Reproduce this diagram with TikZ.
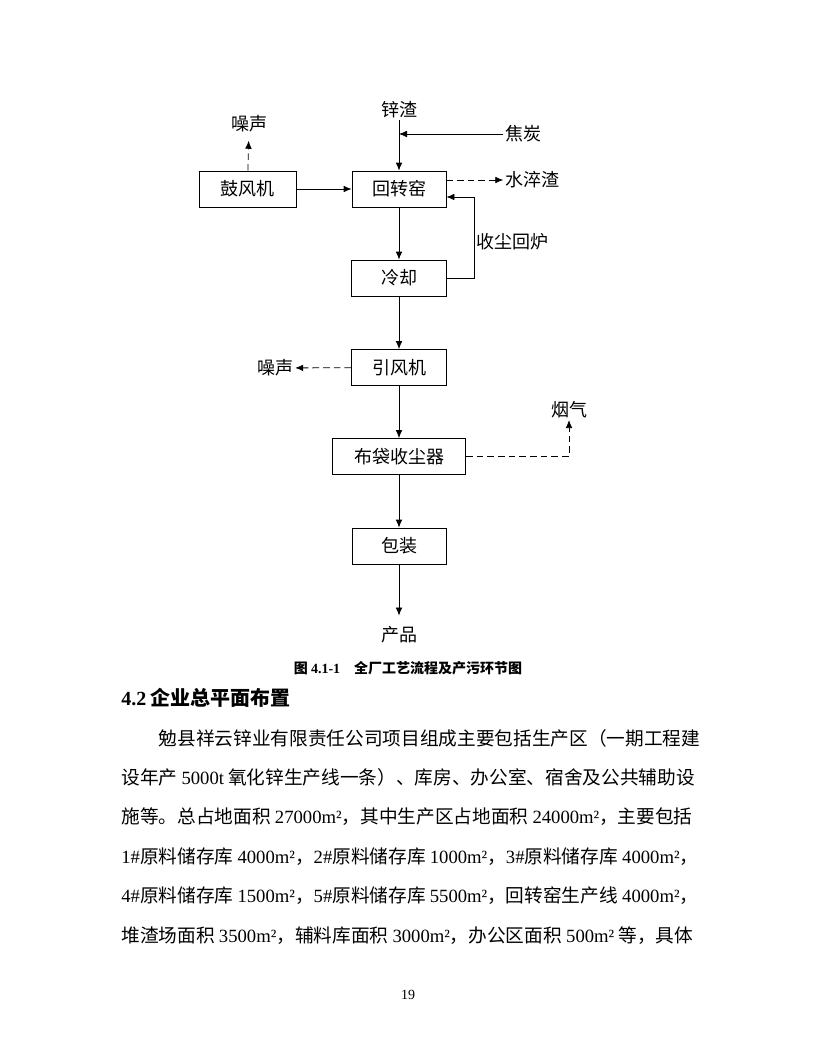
\documentclass[tikz,border=0pt]{standalone}
\usepackage{fontspec}
\usetikzlibrary{arrows.meta}
\setmainfont{Noto Sans CJK SC}
\newfontfamily\lat{Liberation Serif}
\newcommand{\en}[1]{{\lat #1}}
\tikzset{>={Latex[length=6pt,width=5pt]},
  proc/.style={draw,shape=rectangle,minimum height=27pt,minimum width=71.25pt,inner sep=0pt,font=\fontsize{13.5}{16}\selectfont},
  lbl/.style={inner sep=1pt,font=\fontsize{13.5}{16}\selectfont},
  dashline/.style={dash pattern=on 5pt off 3pt},
  bodyline/.style={anchor=west,inner sep=0pt,font=\fontsize{14}{16}\selectfont}}
\begin{document}
\begin{tikzpicture}[x=0.75pt,y=-0.75pt,line width=0.6pt]
\fill[white] (0,0) rectangle (816,1056);
\useasboundingbox (0,0) rectangle (816,1056);
% process boxes
\node[proc,minimum width=72.75pt](blower) at (247.5,189){鼓风机};
\node[proc,minimum width=70.5pt](kiln) at (399,189){回转窑};
\node[proc](cool) at (399,278){冷却};
\node[proc](idfan) at (399,367.5){引风机};
\node[proc,minimum width=99.75pt](bag) at (399,456.5){布袋收尘器};
\node[proc,minimum width=70.5pt](pack) at (399,546){包装};
% inputs and outputs
\node[lbl](zn) at (399,109.5){锌渣};
\node[lbl](coke) at (523,134){焦炭};
\node[lbl](noise1) at (249,124){噪声};
\node[lbl](slag) at (532,180){水淬渣};
\node[lbl](dust) at (512.5,242){收尘回炉};
\node[lbl](noise2) at (275.5,368){噪声};
\node[lbl](smoke) at (569,410){烟气};
\node[lbl](prod) at (399,635){产品};
\coordinate (j1) at (399,134);
\coordinate (r1) at (474,278);
\draw[->] (zn) -- (kiln);
\draw[->] (coke) -- (j1);
\draw[->,dashline,shorten >=5pt] (blower) -- (noise1);
\draw[->] (blower) -- (kiln);
\draw[->,dashline] (kiln.east |- slag) -- (slag);
\draw[->] (kiln) -- (cool);
\draw[->] (cool.east) -- (r1) |- ([shift={(0,8)}]kiln.east);
\draw[->] (cool) -- (idfan);
\draw[->,dashline] (idfan) -- (noise2);
\draw[->] (idfan) -- (bag);
\draw[->,dashline] (bag) -| (smoke);
\draw[->] (bag) -- (pack);
\draw[->,shorten >=7pt] (pack) -- (prod);
% caption and text
\node[font=\fontsize{10.5}{12}\selectfont\bfseries](cap) at (408,668){图 \en{4.1-1}\quad 全厂工艺流程及产污环节图};
\node[anchor=west,inner sep=0pt,font=\fontsize{15}{18}\selectfont\bfseries](head) at (121,698){\en{4.2} 企业总平面布置};
\node[bodyline](l1) at (121,738){\hspace*{2em}勉县祥云锌业有限责任公司项目组成主要包括生产区（一期工程建};
\node[bodyline](l2) at (121,777.5){设年产 \en{5000t} 氧化锌生产线一条）、库房、办公室、宿舍及公共辅助设};
\node[bodyline](l3) at (121,817){施等。总占地面积 \en{27000m²}，其中生产区占地面积 \en{24000m²}，主要包括};
\node[bodyline](l4) at (121,856.5){\en{1\#}原料储存库 \en{4000m²}，\en{2\#}原料储存库 \en{1000m²}，\en{3\#}原料储存库 \en{4000m²}，};
\node[bodyline](l5) at (121,896){\en{4\#}原料储存库 \en{1500m²}，\en{5\#}原料储存库 \en{5500m²}，回转窑生产线 \en{4000m²}，};
\node[bodyline](l6) at (121,935.5){堆渣场面积 \en{3500m²}，辅料库面积 \en{3000m²}，办公区面积 \en{500m²} 等，具体};
\node[font=\fontsize{10.5}{12}\selectfont\lat](page) at (408,995){19};
\end{tikzpicture}
\end{document}
